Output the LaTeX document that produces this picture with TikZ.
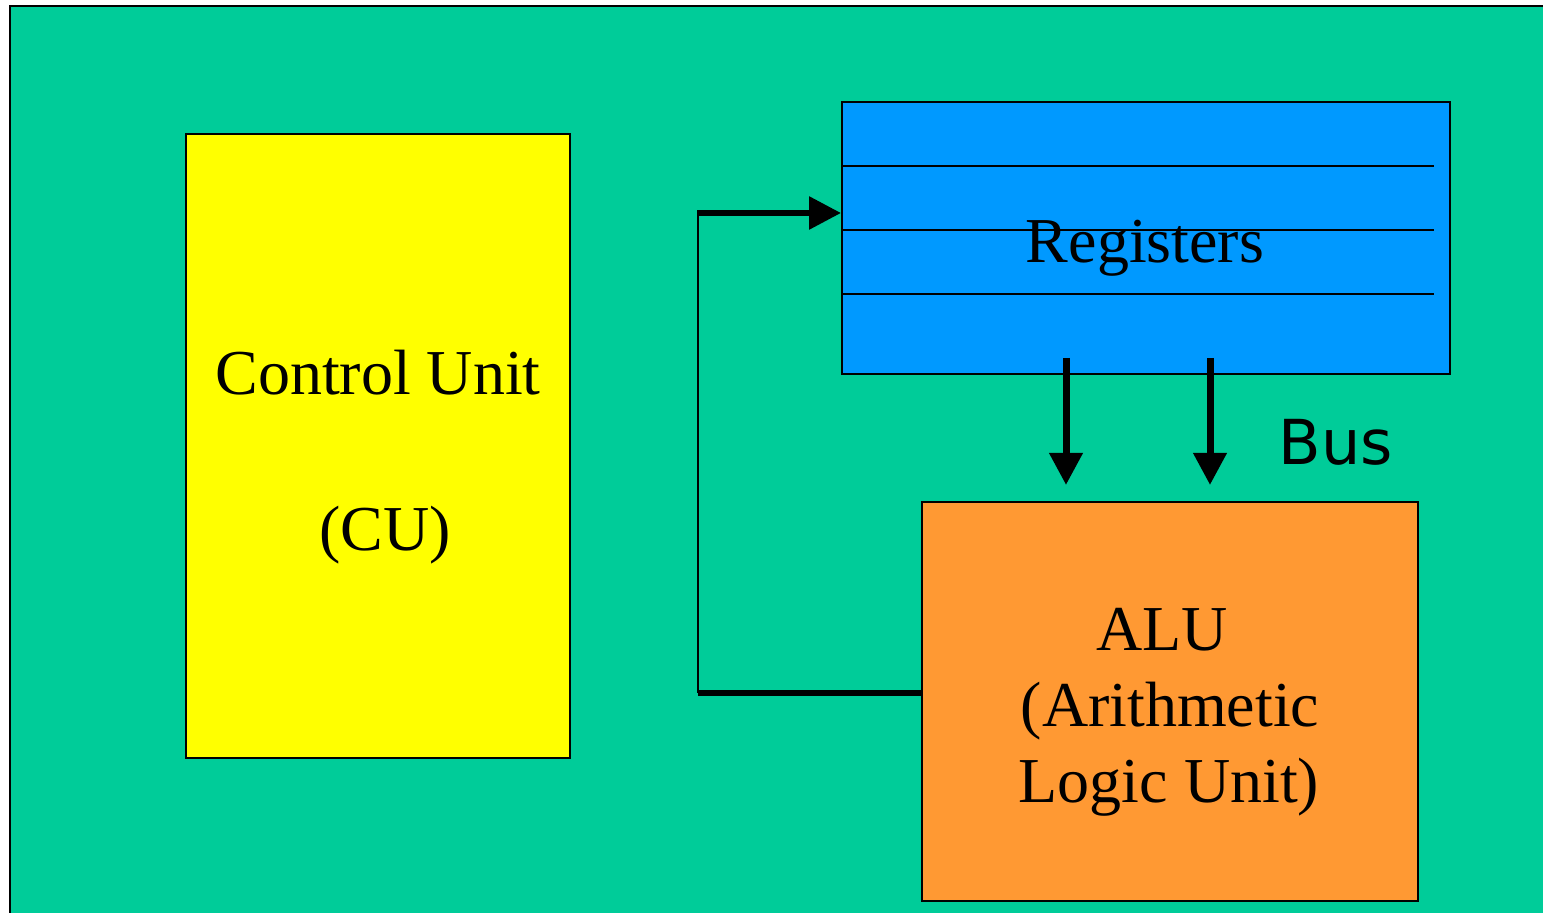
\documentclass[tikz,border=0pt]{standalone}
\usepackage{fontspec}
\setmainfont{Liberation Serif}
\newfontfamily\busfont{DejaVu Sans}
\usetikzlibrary{arrows.meta}
\definecolor{bggreen}{HTML}{00CC99}
\definecolor{cuyellow}{HTML}{FFFF00}
\definecolor{regblue}{HTML}{0099FF}
\definecolor{aluorange}{HTML}{FF9933}
\tikzset{
  unitbox/.style={draw=black, line width=1pt, inner sep=0pt},
  lbl/.style={anchor=base, inner sep=0pt, font=\fontsize{32}{38}\selectfont},
  thickarrow/.style={line width=3.5pt, -{Triangle[length=16pt,width=16pt]}},
  thickline/.style={line width=3pt},
  thinline/.style={line width=1pt},
  regline/.style={line width=0.8pt}
}
\begin{document}
\begin{tikzpicture}[x=0.5pt, y=-0.5pt]
\useasboundingbox (0,0) rectangle (1543,913);
\fill[bggreen] (10,6) rectangle (1543,913);
\draw[line width=1pt] (10,913) -- (10,6) -- (1543,6);

% boxes
\node[unitbox, fill=cuyellow, minimum width=192pt, minimum height=312pt] (cu) at (378,446) {};
\node[unitbox, fill=regblue, minimum width=304pt, minimum height=136pt] (reg) at (1146,238) {};
\node[unitbox, fill=aluorange, minimum width=248pt, minimum height=199.5pt] (alu) at (1170,701.5) {};

% register separator lines
\draw[regline] (842,166) -- (1434,166);
\draw[regline] (842,230) -- (1434,230);
\draw[regline] (842,294) -- (1434,294);

% texts
\node[lbl] (cut1) at (378,395) {Control Unit};
\node[lbl] (cut2) at (385,551) {(CU)};
\node[lbl] (regt) at (1145,263) {Registers};
\node[lbl] (alut1) at (1162,651) {ALU};
\node[lbl] (alut2) at (1170,727) {(Arithmetic};
\node[lbl] (alut3) at (1169,803) {Logic Unit)};
\node[lbl, font=\busfont\fontsize{31}{36}\selectfont] (bus) at (1336,465) {Bus};

% bus arrows
\coordinate (b1s) at (1066,358);
\coordinate (b1e) at (1066,485);
\coordinate (b2s) at (1210,358);
\coordinate (b2e) at (1210,485);
\draw[thickarrow] (b1s) -- (b1e);
\draw[thickarrow] (b2s) -- (b2e);

% feedback path ALU -> Registers
\coordinate (fba) at (alu.west |- 0,693);
\coordinate (fbc1) at (698,693);
\coordinate (fbc2) at (698,213);
\draw[thickline] (fba) -- (fbc1);
\draw[thinline] (fbc1) -- (fbc2);
\draw[line width=3pt, -{Triangle[length=16pt,width=16pt]}] ([xshift=-0.5pt]fbc2) -- (reg.west |- fbc2);
\end{tikzpicture}
\end{document}
